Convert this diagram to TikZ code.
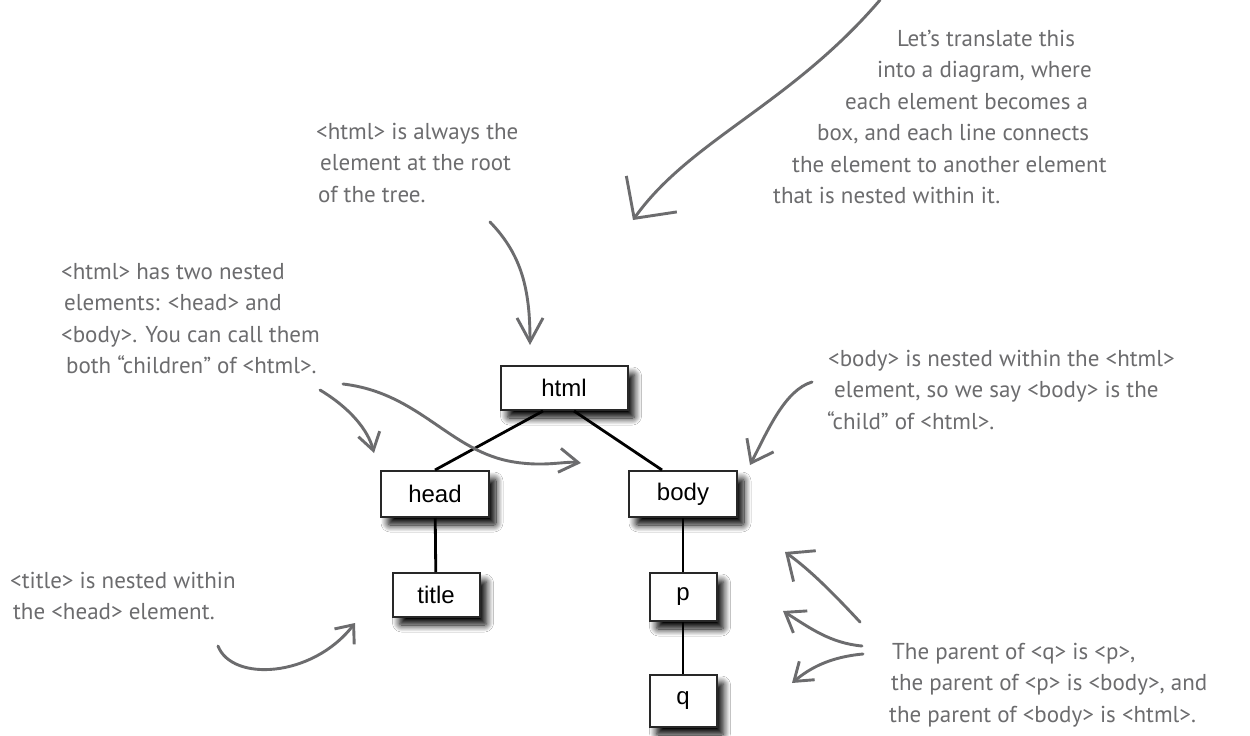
\documentclass[tikz,border=0pt]{standalone}
\usepackage{fontspec}
\setmainfont{Liberation Sans}
\newfontfamily\handfont{PT Sans}
\usetikzlibrary{arrows.meta,shadows.blur}
\definecolor{pen}{RGB}{108,108,110}
\definecolor{boxline}{RGB}{40,40,40}
\begin{document}
\begin{tikzpicture}[x=1pt,y=-1pt,
  elem/.style={draw=boxline, line width=2pt, fill=white, minimum width=#1,
    minimum height=46pt, inner sep=0pt, font=\fontsize{24}{28}\selectfont,
    blur shadow={shadow xshift=7pt, shadow yshift=-8pt, shadow blur radius=7pt, shadow blur steps=12, shadow opacity=100, shadow blur extra rounding=2pt}},
  elem/.default=108pt,
  tree/.style={draw=black, line width=2.8pt},
  pen/.style={draw=pen, line width=2.9pt, line cap=round, line join=round},
  note/.style={text=pen, font=\handfont\fontsize{23}{31.5}\selectfont, align=left, inner sep=0pt, anchor=north west}
]
\fill[white] (0,0) rectangle (1250,736);
\useasboundingbox (0,0) rectangle (1250,736);

% element boxes
\node[elem=127pt, minimum height=44pt] (html) at (564,388) {html};
\node[elem] (head) at (435,494) {head};
\node[elem] (body) at (683,494) {body};
\node[elem=87pt, minimum height=44pt] (title) at (436,595) {title};
\node[elem=67pt, minimum height=48pt] (p) at (683,597) {p};
\node[elem=67pt, minimum height=52pt] (q) at (683,701) {q};

% tree connectors
\draw[tree] ([xshift=-21pt]html.south) -- (head.north);
\draw[tree] ([xshift=10pt]html.south) -- ([xshift=-21pt]body.north);
\draw[tree] (head) -- (title);
\draw[tree] (body) -- (p);
\draw[tree] (p) -- (q);

% annotation texts
\node[note] (ntr) at (773,30) {\hspace*{124pt}Let’s translate this\\
  \hspace*{104pt}into a diagram, where\\
  \hspace*{72pt}each element becomes a\\
  \hspace*{44pt}box, and each line connects\\
  \hspace*{19pt}the element to another element\\
  that is nested within it.};
\node[note] (nroot) at (316,123) {<html> is always the\\
  \hspace*{4pt}element at the root\\
  \hspace*{2pt}of the tree.};
\node[note] (nleft) at (61,263) {<html> has two nested\\
  \hspace*{3pt}elements: <head> and\\
  <body>. You can call them\\
  \hspace*{5pt}both “children” of <html>.};
\node[note] (nbody) at (827,350) {\hspace*{1pt}<body> is nested within the <html>\\
  \hspace*{7pt}element, so we say <body> is the\\
  “child” of <html>.};
\node[note] (ntitle) at (10,572) {<title> is nested within\\
  \hspace*{3pt}the <head> element.};
\node[note] (npar) at (889,643) {\hspace*{3pt}The parent of <q> is <p>,\\
  \hspace*{2pt}the parent of <p> is <body>, and\\
  the parent of <body> is <html>.};

% arrow end points
\coordinate (a1s) at (880,0);   \coordinate (a1e) at (633,220);
\coordinate (a2s) at (490,222); \coordinate (a2e) at (530,345);
\coordinate (a3s) at (320,390); \coordinate (a3e) at (374,453);
\coordinate (a4s) at (343,384); \coordinate (a4e) at (581,463);
\coordinate (a5s) at (812,382); \coordinate (a5e) at (750,465);
\coordinate (a6s) at (218,646); \coordinate (a6e) at (355,623);
\coordinate (a7s) at (860,622); \coordinate (a7e) at (785,552);
\coordinate (a8s) at (862,646); \coordinate (a8e) at (783,611);
\coordinate (a9s) at (863,654); \coordinate (a9e) at (792,683);

% gray hand-drawn arrows
\draw[pen, -{Straight Barb[length=30pt,width=62pt]}] (a1s) .. controls (790,105) and (690,140) .. (a1e);
\draw[pen, -{Straight Barb[length=24pt,width=26pt]}] (a2s) .. controls (522,255) and (530,290) .. (a2e);
\draw[pen, -{Straight Barb[length=17pt,width=22pt]}] (a3s) .. controls (350,408) and (368,430) .. (a3e);
\draw[pen, -{Straight Barb[length=19pt,width=24pt]}] (a4s) .. controls (420,393) and (450,452) .. (514,462) .. controls (545,467) and (565,461) .. (a4e);
\draw[pen, -{Straight Barb[length=20pt,width=30pt]}] (a5s) .. controls (785,390) and (768,430) .. (a5e);
\draw[pen, -{Straight Barb[length=15pt,width=25pt]}] (a6s) .. controls (232,682) and (312,678) .. (a6e);
\draw[pen, -{Straight Barb[length=22pt,width=38pt]}] (a7s) .. controls (832,592) and (810,570) .. (a7e);
\draw[pen, -{Straight Barb[length=18pt,width=26pt]}] (a8s) .. controls (830,643) and (810,628) .. (a8e);
\draw[pen, -{Straight Barb[length=17pt,width=24pt]}] (a9s) .. controls (830,657) and (810,668) .. (a9e);
\end{tikzpicture}
\end{document}
